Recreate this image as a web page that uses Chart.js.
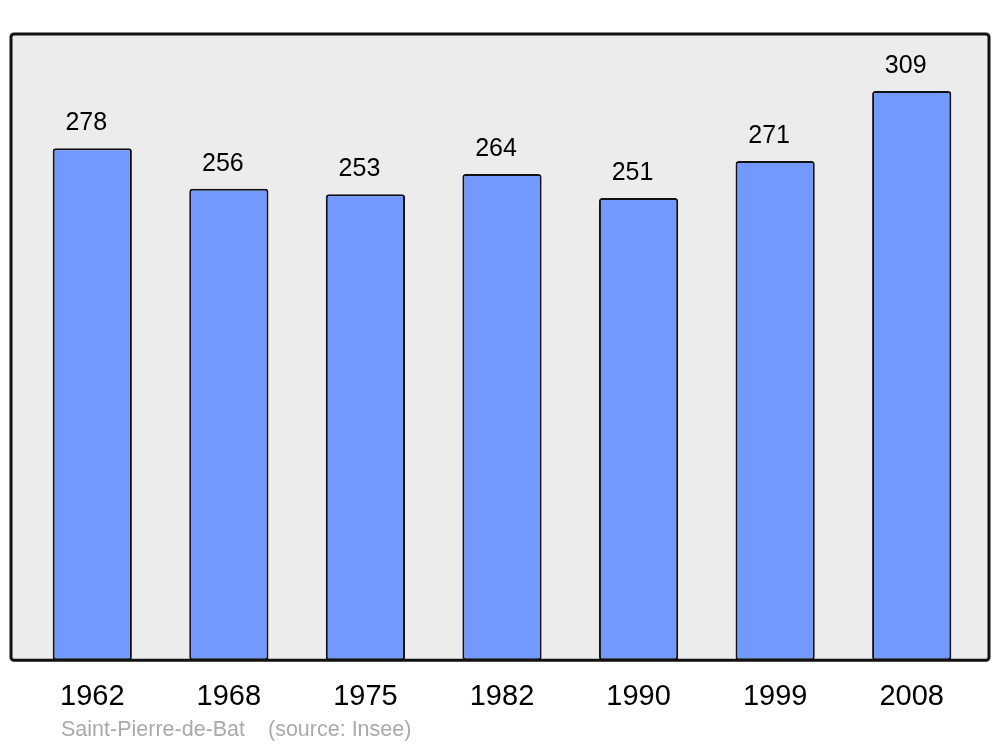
<!DOCTYPE html>
<html>
<head>
<meta charset="utf-8">
<script src="https://cdn.jsdelivr.net/npm/chart.js@4/dist/chart.umd.min.js"></script>
<style>
  body { margin: 0; background: #fff; }
  #c { display: block; }
</style>
</head>
<body>
<canvas id="c" width="1000" height="747"></canvas>
<script>
// données population
const years = ['1962', '1968', '1975', '1982', '1990', '1999', '2008'];
const population = [278, 256, 253, 264, 251, 271, 309];
const townName = 'Saint-Pierre-de-Bat';
const sourceText = '(source: Insee)';

// fond gris + cadre noir
const framePlugin = {
    id: 'frame',
    beforeDatasetsDraw(chart) {
        const a = chart.chartArea;
        const ctx = chart.ctx;
        ctx.save();
        ctx.beginPath();
        ctx.roundRect(11, a.top, 978, a.bottom - a.top, 3);
        ctx.fillStyle = '#ececec';
        ctx.fill();
        ctx.lineWidth = 3;
        ctx.strokeStyle = '#111';
        ctx.stroke();
        ctx.restore();
    }
};

// valeurs au-dessus des barres + source
const labelPlugin = {
    id: 'labels',
    afterDatasetsDraw(chart) {
        const ctx = chart.ctx;
        const meta = chart.getDatasetMeta(0);
        ctx.save();
        ctx.font = '25px "Liberation Sans", Arial, sans-serif';
        ctx.fillStyle = '#000';
        ctx.textAlign = 'center';
        ctx.textBaseline = 'middle';
        meta.data.forEach((bar, i) => {
            ctx.fillText(population[i], bar.x - 6, bar.y - 25);
        });
        ctx.font = '21.5px "Liberation Sans", Arial, sans-serif';
        ctx.fillStyle = '#aaaaaa';
        ctx.textAlign = 'left';
        ctx.fillText(townName, 61, 730);
        ctx.fillText(sourceText, 268, 730);
        ctx.restore();
    }
};

new Chart(document.getElementById('c'), {
    type: 'bar',
    data: {
        labels: years,
        datasets: [{
            data: population,
            backgroundColor: '#7399ff',
            borderColor: '#111',
            borderWidth: 2,
            borderRadius: 3,
            borderSkipped: false,
            barPercentage: 0.58,
            categoryPercentage: 1
        }]
    },
    options: {
        responsive: false,
        animation: false,
        layout: { padding: { left: 24, right: 20, top: 34, bottom: 14 } },
        plugins: {
            legend: { display: false },
            tooltip: { enabled: false }
        },
        scales: {
            x: {
                grid: { display: false, drawTicks: false },
                border: { display: false },
                ticks: {
                    color: '#000',
                    padding: 19,
                    font: { size: 29, family: '"Liberation Sans", Arial, sans-serif' }
                }
            },
            y: {
                display: false,
                min: 0,
                max: 340
            }
        }
    },
    plugins: [framePlugin, labelPlugin]
});
</script>
</body>
</html>
